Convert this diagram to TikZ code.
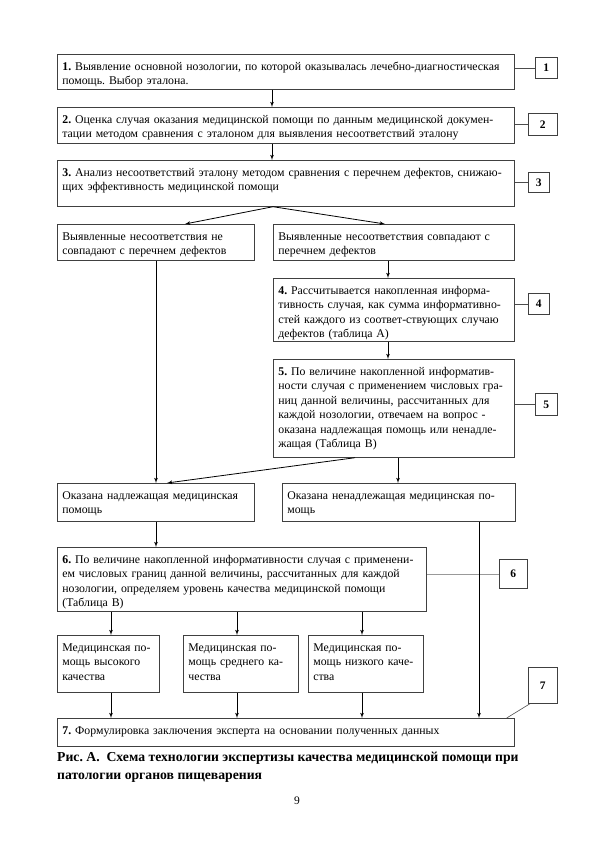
\documentclass[tikz,border=0pt]{standalone}
\usepackage{fontspec}
\setmainfont{Liberation Serif}
\usetikzlibrary{arrows}
\frenchspacing

\begin{document}
\begin{tikzpicture}[x=1pt,y=-1pt,
    >=latex',
    box/.style = {
      draw = black!75,
      line width = 0.7pt,
      anchor = north west,
      align = left,
      inner xsep = 5pt,
      inner ysep = 4pt,
      text height = 12pt,
      font = \fontsize{11.8}{14.5}\selectfont
    },
    tag/.style = {
      draw = black!75,
      line width = 0.7pt,
      anchor = north west,
      inner sep = 0pt,
      font = \fontsize{11.5}{13}\selectfont\bfseries
    },
    tagline/.style = {black!70, line width = 0.6pt},
    arr/.style = {->, line width = 0.8pt}
  ]
  \useasboundingbox (0,0) rectangle (594,841);

  % main steps
  \node[box, text width=447pt, text depth=15pt] (b1) at (57,54)
    {\textbf{1.} Выявление основной нозологии, по которой оказывалась лечебно-диагностическая\\помощь. Выбор эталона.};
  \node[box, text width=447pt, text depth=16pt] (b2) at (57,107)
    {\textbf{2.} Оценка случая оказания медицинской помощи по данным медицинской докумен-\\тации методом сравнения с эталоном для выявления несоответствий эталону};
  \node[box, text width=447pt, text depth=26pt] (b3) at (57,160)
    {\textbf{3.} Анализ несоответствий эталону методом сравнения с перечнем дефектов, снижаю-\\щих эффективность медицинской помощи};

  \node[box, text width=187pt, text depth=16pt] (bL) at (57,224)
    {Выявленные несоответствия не\\совпадают с перечнем дефектов};
  \node[box, text width=231pt, text depth=16pt] (bR) at (273,224)
    {Выявленные несоответствия совпадают с\\перечнем дефектов};

  \node[box, text width=231pt, text depth=43pt] (b4) at (273,278)
    {\textbf{4.} Рассчитывается накопленная информа-\\тивность случая, как сумма информативно-\\стей каждого из соответ-ствующих случаю\\дефектов (таблица А)};
  \node[box, text width=231pt, text depth=78pt] (b5) at (273,359)
    {\textbf{5.} По величине накопленной информатив-\\ности случая с применением числовых гра-\\ниц данной величины, рассчитанных для\\каждой нозологии, отвечаем на вопрос -\\оказана надлежащая помощь или ненадле-\\жащая (Таблица В)};

  \node[box, text width=187pt, text depth=18pt] (bP) at (57,483)
    {Оказана надлежащая медицинская\\помощь};
  \node[box, text width=223pt, text depth=18pt] (bN) at (282,483)
    {Оказана ненадлежащая медицинская по-\\мощь};

  \node[box, text width=359pt, text depth=44pt] (b6) at (57,547)
    {\textbf{6.} По величине накопленной информативности случая с применени-\\ем числовых границ данной величины, рассчитанных для каждой\\нозологии, определяем уровень качества медицинской помощи\\(Таблица В)};

  \node[box, text width=92pt, text depth=37pt] (q1) at (57,635)
    {Медицинская по-\\мощь высокого\\качества};
  \node[box, text width=105pt, text depth=37pt] (q2) at (183,635)
    {Медицинская по-\\мощь среднего ка-\\чества};
  \node[box, text width=105pt, text depth=37pt] (q3) at (308,635)
    {Медицинская по-\\мощь низкого каче-\\ства};

  \node[box, text width=447pt, text depth=8pt] (b7) at (57,718)
    {\textbf{7.} Формулировка заключения эксперта на основании полученных данных};

  % step numbers
  \node[tag, minimum width=22pt, minimum height=21pt] (l1) at (535,57) {1};
  \node[tag, minimum width=29pt, minimum height=22pt] (l2) at (528,113) {2};
  \node[tag, minimum width=21pt, minimum height=20pt] (l3) at (528,172) {3};
  \node[tag, minimum width=21pt, minimum height=21pt] (l4) at (528,293) {4};
  \node[tag, minimum width=22pt, minimum height=22pt] (l5) at (535,393) {5};
  \node[tag, minimum width=28pt, minimum height=29pt] (l6) at (499,559) {6};
  \node[tag, minimum width=29pt, minimum height=36pt] (l7) at (528,667) {7};

  \draw[tagline] (l1.west) -- (l1.west -| b1.east);
  \draw[tagline] (l2.west) -- (l2.west -| b2.east);
  \draw[tagline] (l3.west) -- (l3.west -| b3.east);
  \draw[tagline] (l4.west) -- (l4.west -| b4.east);
  \draw[tagline] (l5.west) -- (l5.west -| b5.east);
  \draw[tagline, black!40] (l6.west) -- (l6.west -| b6.east);
  \draw[tagline] ([xshift=-8pt]b7.north east) -- ([xshift=2pt]l7.south west);

  % arrows
  \draw[arr] (b1.south -| 272,0) -- (b2.north -| 272,0);
  \draw[arr] (b2.south -| 272,0) -- (b3.north -| 272,0);
  \draw[arr] (b3.south -| 273,0) -- (bL.north -| 185,0);
  \draw[arr] (b3.south -| 273,0) -- (bR.north -| 385,0);
  \draw[arr] (bR.south -| 388,0) -- (b4.north -| 388,0);
  \draw[arr] (b4.south -| 388,0) -- (b5.north -| 388,0);
  \draw[arr] (bL.south -| 156,0) -- (bP.north -| 156,0);
  \draw[arr] (b5.south -| 355,0) -- (bP.north -| 167,0);
  \draw[arr] (b5.south -| 398,0) -- (bN.north -| 398,0);
  \draw[arr] (bP.south -| 156,0) -- (b6.north -| 156,0);
  \draw[arr] (bN.south -| 479,0) -- (b7.north -| 479,0);
  \foreach \q/\x in {q1/111, q2/237, q3/362} {
    \draw[arr] (b6.south -| \x,0) -- (\q.north -| \x,0);
    \draw[arr] (\q.south -| \x,0) -- (b7.north -| \x,0);
  }

  % caption
  \node[anchor=north west, align=left, inner sep=0pt,
        font=\fontsize{13.7}{18}\selectfont\bfseries] (cap) at (57,752)
    {Рис. А.\ \ Схема технологии экспертизы качества медицинской помощи при\\патологии органов пищеварения};
  \node[font=\fontsize{11.5}{13}\selectfont] (page) at (297,801) {9};
\end{tikzpicture}
\end{document}
